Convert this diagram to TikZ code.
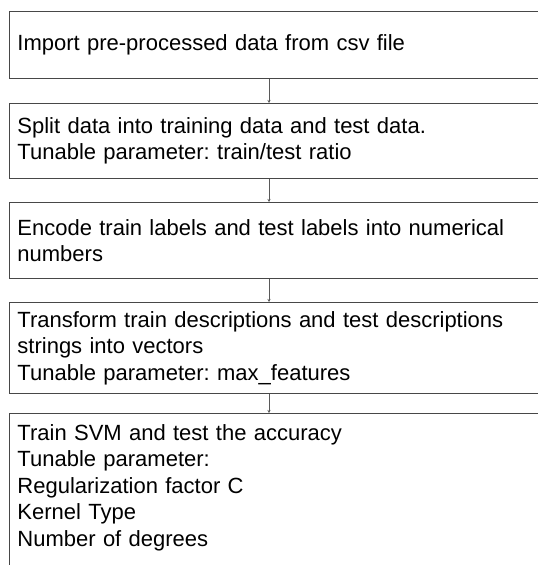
\documentclass[tikz,border=0pt]{standalone}
\usepackage{fontspec}
\setmainfont{Liberation Sans}
\usetikzlibrary{arrows.meta}
\frenchspacing
\begin{document}
\begin{tikzpicture}[x=1pt,y=-1pt,
  stepbox/.style={draw=black!72, line width=0.9pt, anchor=north west,
    minimum width=561pt, text width=545pt, inner xsep=8pt, inner ysep=0pt,
    align=left, font=\fontsize{22pt}{26.5pt}\selectfont\frenchspacing},
  conn/.style={draw=black!65, line width=0.8pt, -{Stealth[length=3pt,width=3pt]}}]
\useasboundingbox (0,0) rectangle (538,565);
\clip (0,0) rectangle (538,565);
\node[stepbox, minimum height=67pt] (b1) at (9,11) {Import pre-processed data from csv file};
\node[stepbox, minimum height=75pt] (b2) at (9,103) {Split data into training data and test data.\\Tunable parameter: train/test ratio};
\node[stepbox, minimum height=76pt] (b3) at (9,202) {Encode train labels and test labels into numerical\\numbers};
\node[stepbox, minimum height=91pt] (b4) at (9,302) {Transform train descriptions and test descriptions\\strings into vectors\\Tunable parameter: max\_features};
\node[stepbox, text height=27pt, text depth=143pt] (b5) at (9,413) {Train SVM and test the accuracy\\Tunable parameter:\\Regularization factor C\\Kernel Type\\Number of degrees};
\draw[conn] ([xshift=260pt]b1.south west) -- ([xshift=260pt]b2.north west);
\draw[conn] ([xshift=260pt]b2.south west) -- ([xshift=260pt]b3.north west);
\draw[conn] ([xshift=260pt]b3.south west) -- ([xshift=260pt]b4.north west);
\draw[conn] ([xshift=260pt]b4.south west) -- ([xshift=260pt]b5.north west);
\end{tikzpicture}
\end{document}
